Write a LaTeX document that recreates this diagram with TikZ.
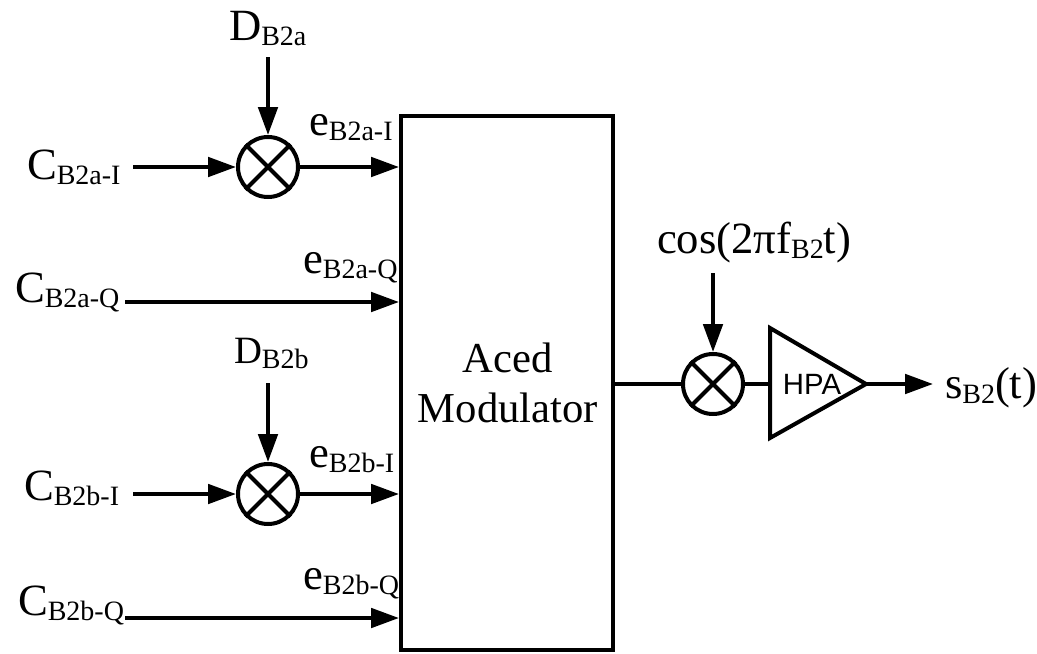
\documentclass[tikz,border=0pt]{standalone}
\usepackage{fontspec}
\setmainfont{Liberation Serif}
\newfontfamily\hpafont{Liberation Sans}
\usetikzlibrary{arrows.meta}
\newcommand{\sublab}[2]{#1\raisebox{-5.5\dimexpr0.75pt\relax}{\fontsize{21}{21}\selectfont #2}}
\tikzset{
  x=0.75pt,y=-0.75pt,
  wire/.style={line width=3pt,line cap=butt},
  arr/.style={wire,-{Triangle[length=21pt,width=14.5pt]}},
  lab/.style={inner sep=0pt,outer sep=0pt,anchor=base west,font=\fontsize{33.5}{33.5}\selectfont},
  midlab/.style={lab,anchor=base,font=\fontsize{32}{32}\selectfont},
  smalllab/.style={lab,font=\fontsize{29}{29}\selectfont},
  mixer/.style={circle,draw,line width=3pt,minimum size=45pt,inner sep=0pt},
  modbox/.style={rectangle,draw,line width=3pt,minimum width=159pt,minimum height=400.5pt,inner sep=0pt},
}
\newcommand{\mixcross}[1]{\draw[line width=3pt] (#1.45) -- (#1.225) (#1.135) -- (#1.315);}
\begin{document}
\begin{tikzpicture}
\useasboundingbox (0,0) rectangle (1037,653);
% blocks
\node[modbox] (box) at (507,383) {};
\node[mixer] (m1) at (268,167) {}; \mixcross{m1}
\node[mixer] (m2) at (268,494) {}; \mixcross{m2}
\node[mixer] (m3) at (713,384) {}; \mixcross{m3}
\node[inner sep=0pt,font=\hpafont\fontsize{22}{22}\selectfont] (hpa) at (812,384) {HPA};
\coordinate (hpaL) at (770,384);
\coordinate (hpaT) at (866,384);
\draw[wire,line join=miter] (770,328) -- (hpaT) -- (770,438) -- cycle;
% labels
\node[lab] (dA) at (229,40) {\sublab{D}{B2a}};
\node[lab] (cAI) at (27,179) {\sublab{C}{B2a-I}};
\node[lab] (eAI) at (309,135) {\sublab{e}{B2a-I}};
\node[lab] (eAQ) at (303,273) {\sublab{e}{B2a-Q}};
\node[lab] (cAQ) at (15,302) {\sublab{C}{B2a-Q}};
\node[smalllab] (dB) at (234,363) {\sublab{D}{B2b}};
\node[lab] (cBI) at (24,500) {\sublab{C}{B2b-I}};
\node[lab] (eBI) at (309,467) {\sublab{e}{B2b-I}};
\node[lab] (eBQ) at (303,589) {\sublab{e}{B2b-Q}};
\node[lab] (cBQ) at (18,615) {\sublab{C}{B2b-Q}};
\node[midlab] (aced) at (508,372) {Aced};
\node[midlab] (modu) at (508,422) {Modulator};
\node[lab] (cos) at (657,253) {cos(2πf\raisebox{-5.5\dimexpr0.75pt\relax}{\fontsize{21}{21}\selectfont B2}t)};
\node[lab] (out) at (945,398) {s\raisebox{-5.5\dimexpr0.75pt\relax}{\fontsize{21}{21}\selectfont B2}(t)};
% free ends
\coordinate (sD1) at (268,57);
\coordinate (sD2) at (268,383);
\coordinate (sC1) at (133,167);
\coordinate (sC2) at (133,494);
\coordinate (sQ1) at (125,302);
\coordinate (sQ2) at (125,618);
\coordinate (sCos) at (713,273);
\coordinate (tOut) at (933,384);
% connectors
\draw[arr] (sD1) -- (m1);
\draw[arr] (sC1) -- (m1);
\draw[arr] (m1) -- (box.west |- m1);
\draw[arr] (sQ1) -- (box.west |- sQ1);
\draw[arr] (sD2) -- (m2);
\draw[arr] (sC2) -- (m2);
\draw[arr] (m2) -- (box.west |- m2);
\draw[arr] (sQ2) -- (box.west |- sQ2);
\draw[wire] (box.east |- m3) -- (m3);
\draw[wire] (m3) -- (hpaL);
\draw[arr] (sCos) -- (m3);
\draw[arr] (hpaT) -- (tOut);
\end{tikzpicture}
\end{document}
